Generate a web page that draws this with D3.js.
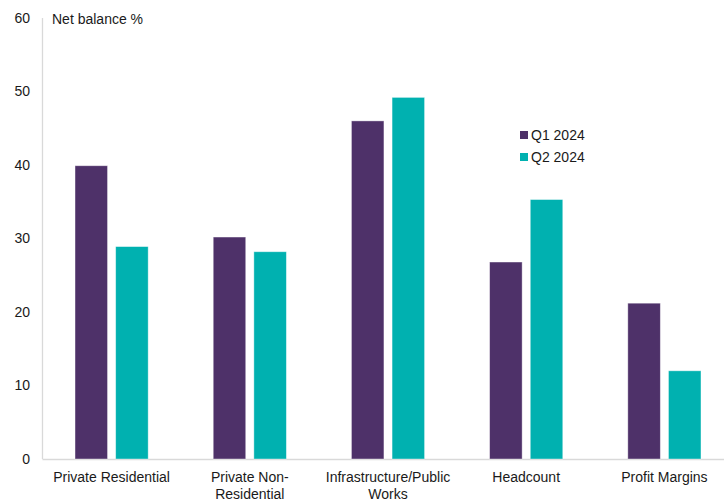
<!DOCTYPE html>
<html><head><meta charset="utf-8">
<script src="https://cdn.jsdelivr.net/npm/d3@7"></script>
<style>
body{margin:0;background:#fff;}
text{font-family:"Liberation Sans",Arial,sans-serif;fill:#1a1a1a;}
</style></head>
<body><svg id="c" width="724" height="502"></svg>
<script>
const categories = ["Private Residential", "Private Non-Residential", "Infrastructure/Public Works", "Headcount", "Profit Margins"];
const categoryLines = [["Private Residential"], ["Private Non-", "Residential"], ["Infrastructure/Public", "Works"], ["Headcount"], ["Profit Margins"]];
const seriesNames = ["Q1 2024", "Q2 2024"];
const q1 = [39.9, 30.2, 46.0, 26.8, 21.2];
const q2 = [28.9, 28.2, 49.2, 35.3, 12.0];
const yTicks = [0, 10, 20, 30, 40, 50, 60];
const colors = ["#4e3169", "#00b1b0"];

const svg = d3.select("#c");
const x0 = d3.scaleBand().domain(categories).range([42.5, 733.5]).paddingInner(0).paddingOuter(0);
const x1 = d3.scaleBand().domain(seriesNames).range([0, x0.bandwidth()]).paddingInner(0.2).paddingOuter(0.8);
const y = d3.scaleLinear().domain([0, 60]).range([459, 18]);

// axes
svg.append("line").attr("x1", 42.5).attr("x2", 724).attr("y1", y(0)+0.5).attr("y2", y(0)+0.5).attr("stroke", "#d9d9d9").attr("stroke-width", 1.3);
svg.append("line").attr("x1", 42.5).attr("x2", 42.5).attr("y1", y(60)).attr("y2", y(0)).attr("stroke", "#d9d9d9").attr("stroke-width", 1.3);

svg.selectAll(".yt").data(yTicks).enter().append("text")
  .attr("x", 30).attr("y", d => y(d)).attr("dy", "0.35em").attr("text-anchor", "end")
  .attr("font-size", 14).text(d => d);

svg.append("text").attr("x", 52).attr("y", 24).attr("font-size", 14).text("Net balance %");

const data = categories.map((c, i) => ({c, vals: [q1[i], q2[i]]}));
const g = svg.selectAll(".cat").data(data).enter().append("g").attr("transform", d => `translate(${x0(d.c)},0)`);
g.selectAll("rect").data(d => d.vals.map((v, j) => ({s: seriesNames[j], v, j}))).enter().append("rect")
  .attr("x", d => x1(d.s)).attr("width", x1.bandwidth())
  .attr("y", d => y(d.v)).attr("height", d => y(0) - y(d.v))
  .attr("fill", d => colors[d.j]).attr("stroke", "rgba(255,255,255,0.5)").attr("stroke-width", 0.8);

categories.forEach((c, i) => {
  const t = svg.append("text").attr("x", x0(c) + x0.bandwidth()/2).attr("y", 482).attr("text-anchor", "middle").attr("font-size", 14);
  categoryLines[i].forEach((l, k) => t.append("tspan").attr("x", x0(c) + x0.bandwidth()/2).attr("dy", k === 0 ? 0 : 17).text(l));
});

// legend
seriesNames.forEach((s, i) => {
  svg.append("rect").attr("x", 520).attr("y", 131 + i*22).attr("width", 8).attr("height", 8).attr("fill", colors[i]);
  svg.append("text").attr("x", 531).attr("y", 139.5 + i*22).attr("font-size", 14).text(s);
});
</script></body></html>
